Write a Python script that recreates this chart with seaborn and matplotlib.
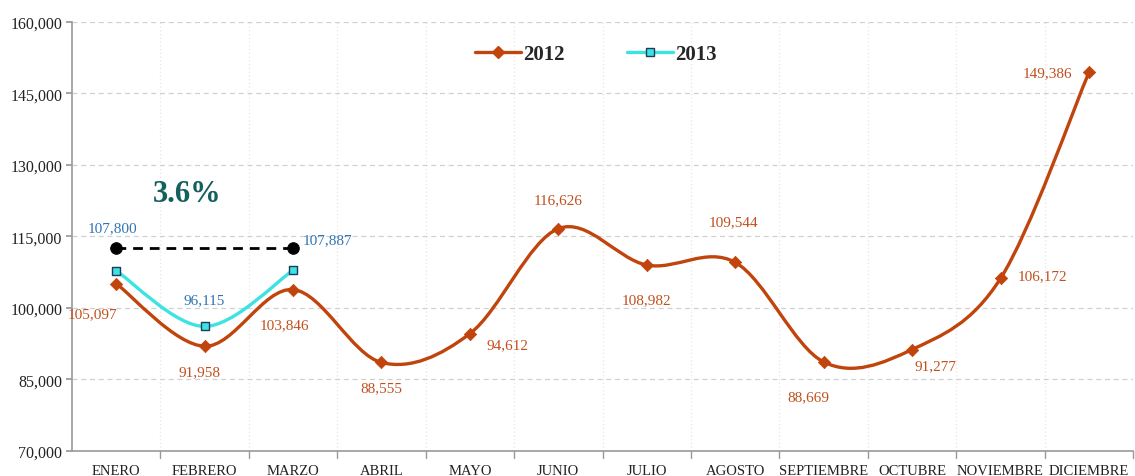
import numpy as np
import pandas as pd
import matplotlib
matplotlib.use("Agg")
import matplotlib.pyplot as plt
import seaborn as sns
from matplotlib.path import Path
from matplotlib.patches import PathPatch
from matplotlib.lines import Line2D

# ---------------- data ----------------
months = ["ENERO", "FEBRERO", "MARZO", "ABRIL", "MAYO", "JUNIO", "JULIO",
          "AGOSTO", "SEPTIEMBRE", "OCTUBRE", "NOVIEMBRE", "DICIEMBRE"]
v2012 = [105097, 91958, 103846, 88555, 94612, 116626, 108982, 109544,
         88669, 91277, 106172, 149386]
v2013 = [107800, 96115, 107887]
ref_level = 112500
growth_label = "3.6%"
y_ticks = [70000, 85000, 100000, 115000, 130000, 145000, 160000]

# label offsets (points)
off2012 = [(-17, -22), (-4, -18), (-6, -25), (0, -18), (27, -8), (0, 21),
           (0, -25), (-1, 29), (-11, -25), (17, -12), (30, 2), (-30, 0)]
off2013 = [(-3, 31), (0, 19), (25, 22)]

C2012 = "#c0440c"
C2012_LBL = "#c0501e"
C2013 = "#3de3e3"
C2013_LBL = "#2e75b6"

sns.set_theme(style="white")
plt.rcParams["font.family"] = ["Liberation Serif", "DejaVu Serif"]

fig = plt.figure(figsize=(11.35, 4.77), dpi=100)
ax = fig.add_axes([0.0634, 0.0524, 0.935, 0.9])

df12 = pd.DataFrame({"x": np.arange(len(months)), "y": v2012})
df13 = pd.DataFrame({"x": np.arange(len(v2013)), "y": v2013})


def smooth_path(xs, ys):
    xs = list(xs); ys = list(ys)
    px = [xs[0]] + xs + [xs[-1]]
    py = [ys[0]] + ys + [ys[-1]]
    verts = [(xs[0], ys[0])]
    codes = [Path.MOVETO]
    for i in range(1, len(px) - 2):
        c1 = (px[i] + (px[i + 1] - px[i - 1]) / 6, py[i] + (py[i + 1] - py[i - 1]) / 6)
        c2 = (px[i + 1] - (px[i + 2] - px[i]) / 6, py[i + 1] - (py[i + 2] - py[i]) / 6)
        verts += [c1, c2, (px[i + 1], py[i + 1])]
        codes += [Path.CURVE4] * 3
    return Path(verts, codes)


ax.add_patch(PathPatch(smooth_path(df12.x, df12.y), facecolor="none",
                       edgecolor=C2012, lw=2.4, zorder=3))
ax.add_patch(PathPatch(smooth_path(df13.x, df13.y), facecolor="none",
                       edgecolor=C2013, lw=2.4, zorder=3))

sns.scatterplot(data=df12, x="x", y="y", marker="D", s=40, color=C2012,
                edgecolor=C2012, linewidth=0.5, ax=ax, zorder=4, legend=False)
sns.scatterplot(data=df13, x="x", y="y", marker="s", s=40, color=C2013,
                edgecolor="#1f3b5a", linewidth=1.0, ax=ax, zorder=4, legend=False)

# dashed reference line
ref_x = [0, 2]
sns.lineplot(x=ref_x, y=[ref_level, ref_level], ax=ax, color="black", lw=2,
             linestyle=(0, (3.5, 2.5)), zorder=5, legend=False)
sns.scatterplot(x=ref_x, y=[ref_level, ref_level], ax=ax, color="black",
                s=70, marker="o", edgecolor="black", zorder=6, legend=False)
ax.text(0.8, 124000, growth_label, fontsize=22, fontweight="bold",
        color="#14605c", ha="center", va="center")

for i, v in enumerate(v2012):
    ax.annotate(f"{v:,}", (i, v), xytext=off2012[i], textcoords="offset points",
                ha="center", va="center", fontsize=11, color=C2012_LBL, zorder=7)
for i, v in enumerate(v2013):
    ax.annotate(f"{v:,}", (i, v), xytext=off2013[i], textcoords="offset points",
                ha="center", va="center", fontsize=11, color=C2013_LBL, zorder=7)

ax.set_xlim(-0.5, len(months) - 0.5)
ax.set_ylim(70000, 160000)
ax.set_yticks(y_ticks)
ax.set_yticklabels([f"{t:,}" for t in y_ticks], fontsize=11.5, color="#222222")
ax.set_xticks(np.arange(len(months)))
ax.set_xticklabels(months, fontsize=10.5, color="#222222")
ax.tick_params(axis="x", length=0, pad=9)
ax.tick_params(axis="y", length=4, color="#999999", left=True, pad=3)
ax.set_xlabel(""); ax.set_ylabel("")

# boundary ticks and grids
bounds = np.arange(-0.5, len(months), 1.0)
for b in bounds[1:]:
    ax.axvline(b, color="#e6e6e6", lw=0.9, linestyle=(0, (1, 2)), zorder=0)
    ax.plot([b, b], [70000, 70000 - 1500], color="#999999", lw=1, clip_on=False)
for t in y_ticks[1:]:
    ax.axhline(t, color="#d0d0d0", lw=0.9, linestyle=(0, (4, 3)), zorder=0)

for s in ["top", "right"]:
    ax.spines[s].set_visible(False)
for s in ["left", "bottom"]:
    ax.spines[s].set_color("#999999")
    ax.spines[s].set_linewidth(1.2)

handles = [Line2D([0], [0], color=C2012, lw=2.4, marker="D", markersize=6,
                  markerfacecolor=C2012, markeredgecolor=C2012),
           Line2D([0], [0], color=C2013, lw=2.4, marker="s", markersize=6,
                  markerfacecolor=C2013, markeredgecolor="#1f3b5a")]
ax.legend(handles, ["2012", "2013"], loc="center", ncol=2,
          bbox_to_anchor=(0.494, 0.925), frameon=False, handlelength=2.2,
          columnspacing=3.0, handletextpad=0.1,
          prop={"family": "Liberation Serif", "weight": "bold", "size": 15})

fig.savefig("out.png", dpi=100, facecolor="white")
